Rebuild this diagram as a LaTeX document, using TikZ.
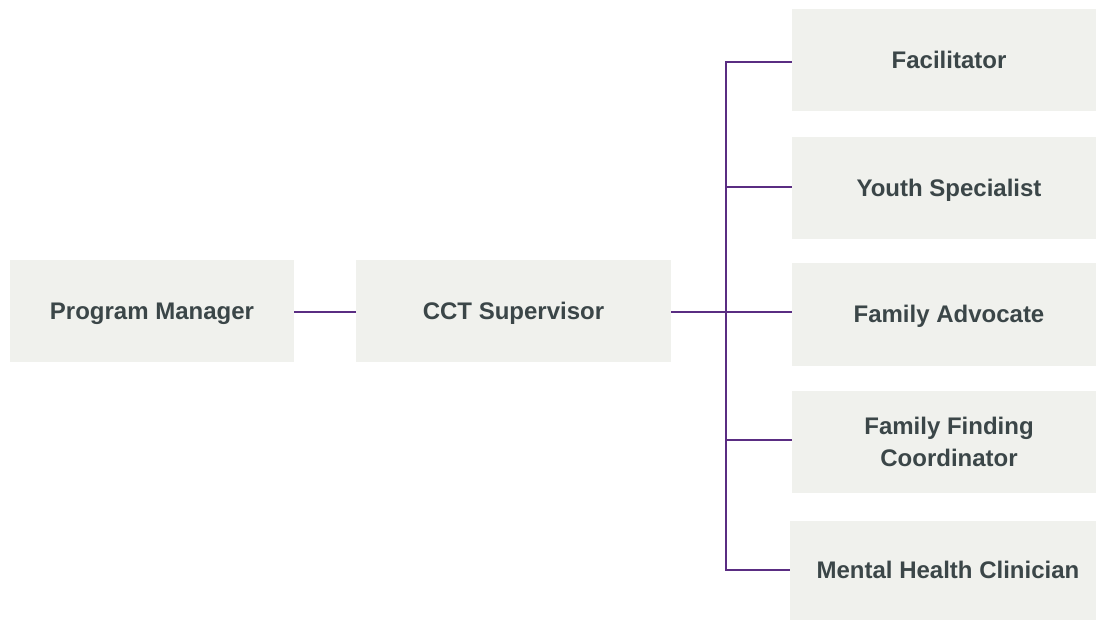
\documentclass[tikz,border=0pt]{standalone}
\usepackage{fontspec}
\setmainfont{Liberation Sans}
\definecolor{boxfill}{HTML}{F0F1ED}
\definecolor{boxtext}{HTML}{3B4648}
\definecolor{linkcol}{HTML}{5A2D82}
\begin{document}
\begin{tikzpicture}[x=1pt,y=-1pt,
  role/.style={fill=boxfill, draw=none, inner sep=0pt, align=center,
    text height=17pt, text depth=0pt,
    font=\fontsize{24}{31.7}\selectfont\bfseries, text=boxtext},
  link/.style={draw=linkcol, line width=2.6pt}]
  \useasboundingbox (0,0) rectangle (1096,620);
  \fill[white] (0,0) rectangle (1096,620);
  % left part of the chart
  \node[role, minimum width=284pt, minimum height=102pt] (pm) at (152,311.5) {Program Manager};
  \node[role, minimum width=315pt, minimum height=102pt] (cct) at (513.5,311.5) {CCT Supervisor};
  % staff boxes on the right (run past the right edge)
  \node[role, minimum width=314pt, minimum height=102pt] (fac) at (949,60) {Facilitator};
  \node[role, minimum width=314pt, minimum height=102pt] (ys) at (949,188) {Youth Specialist};
  \node[role, minimum width=314pt, minimum height=103pt] (fa) at (949,314.5) {Family Advocate};
  \node[role, text height=48.7pt, minimum width=314pt, minimum height=102pt] (ffc) at (949,442) {Family Finding\\Coordinator};
  \node[role, minimum width=316pt, minimum height=99pt] (mhc) at (948,570) {Mental Health Clinician};
  % connectors
  \coordinate (bus) at (726,312);
  \draw[link] (pm.east |- 0,312) -- (cct.west |- 0,312);
  \draw[link] (cct.east |- 0,312) -- (fa.west |- 0,312);
  \draw[link] (fac.west |- 0,62) -- (bus |- 0,62) -- (bus |- 0,570) -- (mhc.west |- 0,570);
  \draw[link] (bus |- 0,187) -- (ys.west |- 0,187);
  \draw[link] (bus |- 0,440) -- (ffc.west |- 0,440);
\end{tikzpicture}
\end{document}
